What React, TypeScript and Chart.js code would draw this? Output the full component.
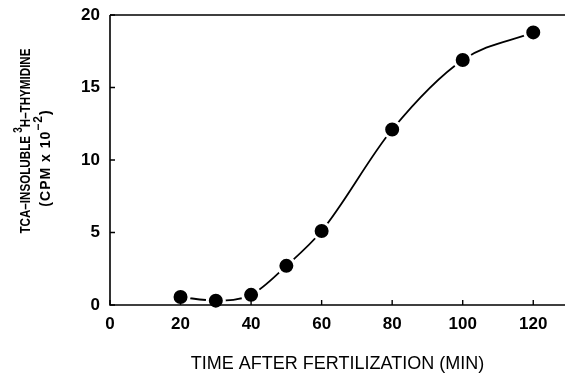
import React, { useEffect, useRef } from "react";
import { Chart, registerables } from "chart.js";

Chart.register(...registerables);

const timeMin = [20, 30, 40, 50, 60, 80, 100, 120];
const cpmE2 = [0.55, 0.3, 0.7, 2.7, 5.1, 12.1, 16.9, 18.8];
const xTicks = [0, 20, 40, 60, 80, 100, 120];
const yTicks = [0, 5, 10, 15, 20];
const xTitle = "TIME AFTER FERTILIZATION (MIN)";

const FONT = '"Liberation Sans", Arial, Helvetica, sans-serif';

const framePlugin = {
  id: "frame",
  afterDatasetsDraw(chart: any) {
    const { ctx, chartArea, scales } = chart;
    const xs = scales.x;
    const ys = scales.y;
    ctx.save();
    ctx.strokeStyle = "#000";
    ctx.lineWidth = 1.6;
    ctx.beginPath();
    ctx.moveTo(chartArea.left, chartArea.top);
    ctx.lineTo(chartArea.right, chartArea.top);
    ctx.moveTo(chartArea.left, chartArea.top);
    ctx.lineTo(chartArea.left, chartArea.bottom);
    ctx.lineTo(chartArea.right, chartArea.bottom);
    ctx.stroke();
    ctx.lineWidth = 1.4;
    ctx.beginPath();
    for (const v of xTicks) {
      const px = xs.getPixelForValue(v);
      ctx.moveTo(px, chartArea.bottom);
      ctx.lineTo(px, chartArea.bottom - 5);
    }
    for (const v of yTicks) {
      const py = ys.getPixelForValue(v);
      ctx.moveTo(chartArea.left, py);
      ctx.lineTo(chartArea.left + 5, py);
    }
    ctx.stroke();

    // x title
    ctx.fillStyle = "#000";
    ctx.font = `18px ${FONT}`;
    ctx.textAlign = "center";
    ctx.textBaseline = "middle";
    ctx.fillText(xTitle, (chartArea.left + chartArea.right) / 2, 364);

    // y title (rotated, with superscripts)
    const drawRich = (
      parts: [string, boolean][],
      cx: number,
      cy: number,
      size: number,
      stretch: number,
      spacing: number
    ) => {
      ctx.save();
      ctx.translate(cx, cy);
      ctx.rotate(-Math.PI / 2);
      ctx.scale(stretch, 1);
      ctx.textAlign = "left";
      ctx.textBaseline = "middle";
      (ctx as any).letterSpacing = `${spacing}px`;
      let total = 0;
      for (const [t, sup] of parts) {
        ctx.font = `bold ${sup ? Math.round(size * 0.85) : size}px ${FONT}`;
        total += ctx.measureText(t).width;
      }
      let x = -total / 2;
      for (const [t, sup] of parts) {
        ctx.font = `bold ${sup ? Math.round(size * 0.85) : size}px ${FONT}`;
        ctx.fillText(t, x, sup ? -size * 0.5 : 0);
        x += ctx.measureText(t).width;
      }
      ctx.restore();
    };
    drawRich(
      [
        ["TCA\u2013INSOLUBLE ", false],
        ["3", true],
        ["H\u2013THYMIDINE", false],
      ],
      26,
      141,
      14,
      0.83,
      0
    );
    drawRich(
      [
        ["(CPM x 10", false],
        ["\u2212", true],
        ["2", true],
        [")", false],
      ],
      46,
      158,
      14,
      1,
      1
    );
    ctx.restore();
  },
};

export default function App() {
  const ref = useRef<HTMLCanvasElement | null>(null);
  useEffect(() => {
    document.body.style.margin = "0";
    const chart = new Chart(ref.current as HTMLCanvasElement, {
      type: "line",
      data: {
        datasets: [
          {
            data: timeMin.map((t, i) => ({ x: t, y: cpmE2[i] })),
            borderColor: "#000",
            borderWidth: 1.8,
            cubicInterpolationMode: "monotone",
            pointRadius: 8.5,
            pointBorderWidth: 3,
            pointBorderColor: "#fff",
            pointBackgroundColor: "#000",
            fill: false,
            clip: false,
          },
        ],
      },
      options: {
        animation: false,
        responsive: false,
        maintainAspectRatio: false,
        layout: { autoPadding: false, padding: { top: 15, right: 0, left: 0, bottom: 0 } },
        plugins: { legend: { display: false }, tooltip: { enabled: false } },
        scales: {
          x: {
            type: "linear",
            min: 0,
            max: 129,
            afterBuildTicks: (s: any) => {
              s.ticks = xTicks.map((v) => ({ value: v }));
            },
            afterFit: (s: any) => {
              s.height = 72;
              s.paddingLeft = 0;
              s.paddingRight = 0;
            },
            grid: { display: false, drawTicks: false },
            border: { display: false },
            ticks: {
              color: "#000",
              padding: 9,
              maxRotation: 0,
              font: { family: FONT, size: 17, weight: "bold" },
            },
          },
          y: {
            type: "linear",
            min: 0,
            max: 20,
            afterBuildTicks: (s: any) => {
              s.ticks = yTicks.map((v) => ({ value: v }));
            },
            afterFit: (s: any) => {
              s.width = 110;
              s.paddingTop = 0;
              s.paddingBottom = 0;
            },
            grid: { display: false, drawTicks: false },
            border: { display: false },
            ticks: {
              color: "#000",
              padding: 10,
              font: { family: FONT, size: 17, weight: "bold" },
            },
          },
        },
      },
      plugins: [framePlugin],
    } as any);
    return () => chart.destroy();
  }, []);
  return (
    <div style={{ position: "absolute", left: 0, top: 0, width: 565, height: 377 }}>
      <canvas ref={ref} width={565} height={377} style={{ display: "block" }} />
    </div>
  );
}
